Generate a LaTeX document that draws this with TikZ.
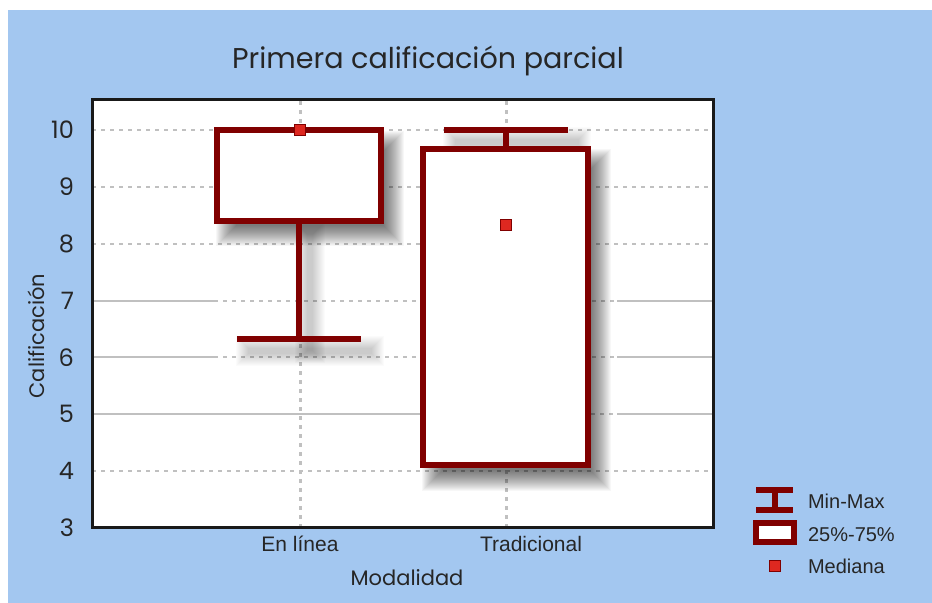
\documentclass[tikz,border=0pt]{standalone}
\usepackage{fontspec}
\newfontfamily\gothic{Poppins}
\newfontfamily\arial{Liberation Sans}

\definecolor{skyblue}{RGB}{163,199,240}
\definecolor{boxred}{RGB}{128,0,0}
\definecolor{medred}{RGB}{222,40,32}
\definecolor{gridgray}{RGB}{192,192,192}

% soft shadow: x1, y1, x2, y2 (pixels), opacity of one layer, list of spreads
\newcommand{\softshadow}[6]{%
    \foreach \r in {#6}
        \fill[black, opacity=#5] ({#1+11-\r},{#2+13-\r}) rectangle ({#3+11+\r},{#4+13+\r});
}

\begin{document}
\begin{tikzpicture}[x=0.5pt, y=-0.5pt]
    \tikzset{
        boxline/.style={draw=boxred, line width=3pt, fill=white},
        whisker/.style={draw=boxred, line width=3pt},
        median/.style={draw=boxred, fill=medred, line width=0.6pt, minimum size=5.5pt, inner sep=0pt},
        gridline/.style={draw=gridgray, line width=1pt},
        griddash/.style={gridline, dash pattern=on 2pt off 2.5pt},
        ticklabel/.style={font=\gothic\fontsize{12}{14}\selectfont, anchor=east, text=black!85},
        axislabel/.style={font=\gothic\fontsize{10.5}{12}\selectfont, text=black!85},
        catlabel/.style={font=\arial\fontsize{10.5}{12}\selectfont, text=black!85},
        legendtext/.style={font=\arial\fontsize{10}{12}\selectfont, anchor=west, text=black!85},
    }

    % Background
    \useasboundingbox (0,0) rectangle (932,603);
    \fill[white] (0,0) rectangle (932,603);
    \fill[skyblue] (8,10) rectangle (932,603);
    \fill[white] (92,100) rectangle (713,528);

    % Title
    \node[font=\gothic\fontsize{14.3}{16}\selectfont, text=black!85] (title) at (428,61) {Primera calificación parcial};

    \begin{scope}[shift={(0,698.58)}, y=28.43pt]
        % Grid
        \foreach \v in {4,8,9,10}
            \draw[griddash] (92,\v) -- (713,\v);
        \foreach \v/\a in {7/214,6/214,5/420} {
            \draw[gridline] (92,\v) -- (\a,\v);
            \draw[griddash] (\a,\v) -- (617,\v);
            \draw[gridline] (617,\v) -- (713,\v);
        }
        \foreach \c in {300,506}
            \draw[griddash, line width=1.5pt] (\c,3) -- (\c,10.527);

        % Tick labels
        \foreach \v in {3,...,10}
            \node[ticklabel] (tick\v) at (81,\v) {\v};
    \end{scope}

    % Shadows
    \softshadow{296}{221}{302}{338}{0.015}{12,11,...,0}
    \softshadow{237}{335}{361}{341}{0.015}{12,11,...,0}
    \softshadow{444}{126}{568}{132}{0.015}{12,11,...,0}
    \softshadow{216.5}{130}{381.3}{221}{0.03}{12,11,...,-8}
    \softshadow{422.7}{148}{588}{465.8}{0.03}{12,11,...,-8}

    \begin{scope}[shift={(0,698.58)}, y=28.43pt]
        % Whiskers
        \coordinate (min1) at (299,6.33);
        \coordinate (max1) at (299,8.4);
        \coordinate (min2) at (506,9.67);
        \coordinate (max2) at (506,10);
        \draw[whisker] (237,6.33) -- (361,6.33);
        \draw[whisker] (min1) -- (max1);
        \draw[whisker] (444,10) -- (568,10);
        \draw[whisker] (min2) -- (max2);

        % Boxes
        \draw[boxline] (216.5,8.4) rectangle (381.3,10);
        \draw[boxline] (422.7,4.1) rectangle (588,9.67);

        % Medians
        \node[median] (med1) at (300,10) {};
        \node[median] (med2) at (506,8.33) {};
    \end{scope}

    % Frame
    \draw[line width=1.5pt, black!90] (92,100) rectangle (713,528);

    % Axis labels
    \node[catlabel] (cat1) at (300,544) {En línea};
    \node[catlabel] (cat2) at (531,544) {Tradicional};
    \node[axislabel] (xlabel) at (407,578) {Modalidad};
    \node[axislabel, rotate=90] (ylabel) at (36,336) {Calificación};

    % Legend
    \draw[whisker] (756,490.3) -- (793,490.3);
    \draw[whisker] (756,510) -- (793,510);
    \draw[whisker] (775,490.3) -- (775,510);
    \draw[boxline] (756,523) rectangle (794,542);
    \node[median] (legmed) at (775,566) {};
    \node[legendtext] (legminmax) at (801,501.7) {Min-Max};
    \node[legendtext] (legbox) at (801,535) {25\%-75\%};
    \node[legendtext] (legmedian) at (801,566.7) {Mediana};
\end{tikzpicture}
\end{document}
